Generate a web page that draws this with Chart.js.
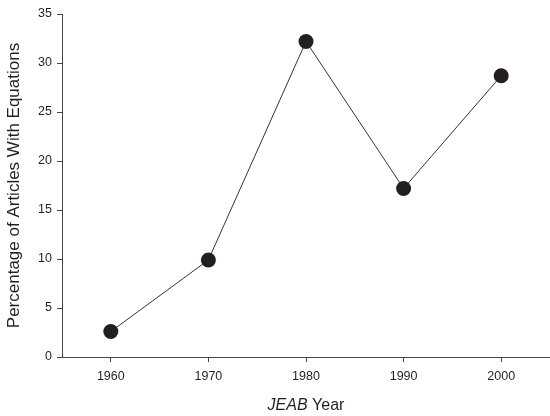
<!DOCTYPE html>
<html>
<head>
<meta charset="utf-8">
<script src="https://cdn.jsdelivr.net/npm/chart.js@4"></script>
<style>
  html, body { margin: 0; padding: 0; background: #fff; }
  #wrap { width: 550px; height: 416px; }
</style>
</head>
<body>
<div id="wrap"><canvas id="chart" width="550" height="416"></canvas></div>
<script>
// Données du graphique
const years = ['1960', '1970', '1980', '1990', '2000'];
const percentages = [2.6, 9.9, 32.2, 17.2, 28.7];
const yTicks = [0, 5, 10, 15, 20, 25, 30, 35];

const ink = '#231f20';
const fontFamily = 'Arial, "Liberation Sans", Helvetica, sans-serif';

// Titre de l'axe X avec "JEAB" en italique
const xTitlePlugin = {
    id: 'xTitle',
    afterDraw(chart) {
        const ctx = chart.ctx;
        const area = chart.chartArea;
        const italicPart = 'JEAB';
        const normalPart = ' Year';
        ctx.save();
        ctx.fillStyle = ink;
        ctx.textBaseline = 'middle';
        ctx.font = 'italic 16px ' + fontFamily;
        const w1 = ctx.measureText(italicPart).width;
        ctx.font = '16px ' + fontFamily;
        const w2 = ctx.measureText(normalPart).width;
        const startX = (area.left + area.right) / 2 - (w1 + w2) / 2;
        const y = area.bottom + 49;
        ctx.font = 'italic 16px ' + fontFamily;
        ctx.fillText(italicPart, startX, y);
        ctx.font = '16px ' + fontFamily;
        ctx.fillText(normalPart, startX + w1, y);
        ctx.restore();
    }
};

const ctx = document.getElementById('chart').getContext('2d');
new Chart(ctx, {
    type: 'line',
    data: {
        labels: years,
        datasets: [{
            data: percentages,
            borderColor: '#333',
            borderWidth: 1,
            pointRadius: 7.5,
            pointHoverRadius: 7.5,
            pointBackgroundColor: ink,
            pointBorderWidth: 0,
            tension: 0,
            fill: false
        }]
    },
    options: {
        responsive: false,
        animation: false,
        layout: { autoPadding: false, padding: { top: 14, right: 0, left: 0, bottom: 0 } },
        plugins: {
            legend: { display: false },
            tooltip: { enabled: false }
        },
        scales: {
            x: {
                offset: true,
                grid: { drawOnChartArea: false, drawTicks: true, tickLength: 5, color: '#444' },
                border: { display: true, color: '#444', width: 1 },
                ticks: {
                    color: ink,
                    font: { family: fontFamily, size: 12.5 },
                    padding: 7,
                    maxRotation: 0
                },
                afterFit: scale => {
                    scale.height = 59;
                    scale.paddingLeft = 0;
                    scale.paddingRight = 0;
                }
            },
            y: {
                min: 0,
                max: 35,
                afterBuildTicks: scale => {
                    scale.ticks = yTicks.map(v => ({ value: v }));
                },
                grid: { drawOnChartArea: false, drawTicks: true, tickLength: 5, color: '#444' },
                border: { display: true, color: '#444', width: 1 },
                ticks: {
                    color: ink,
                    font: { family: fontFamily, size: 12.5 },
                    padding: 5
                },
                title: {
                    display: true,
                    text: 'Percentage of Articles With Equations',
                    color: ink,
                    font: { family: fontFamily, size: 17, weight: 'normal' },
                    padding: { top: 4, bottom: 0 }
                },
                afterFit: scale => {
                    scale.width = 62;
                    scale.paddingTop = 0;
                    scale.paddingBottom = 0;
                }
            }
        }
    },
    plugins: [xTitlePlugin]
});
</script>
</body>
</html>
